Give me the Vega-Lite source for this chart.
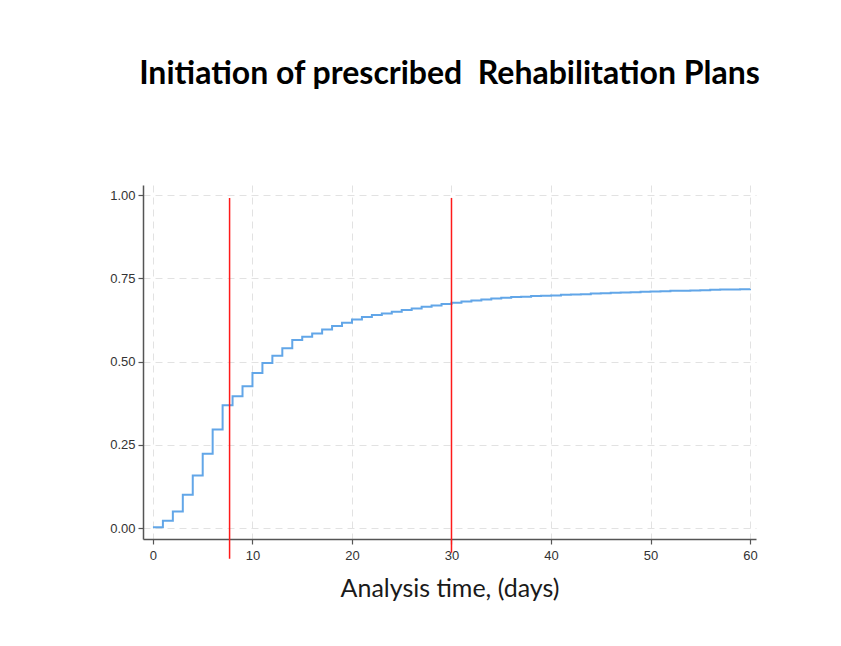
{
  "$schema": "https://vega.github.io/schema/vega-lite/v6.json",
  "autosize": "none",
  "width": 613,
  "height": 354,
  "padding": {"left": 143, "top": 185, "right": 85, "bottom": 107},
  "background": "white",
  "title": {
    "text": "Initiation of prescribed\u00a0 Rehabilitation Plans",
    "font": "Lato",
    "fontSize": 32,
    "fontWeight": "bold",
    "color": "black",
    "anchor": "middle",
    "baseline": "alphabetic",
    "offset": 69
  },
  "config": {
    "view": {"stroke": null},
    "axis": {
      "labelFont": "Liberation Sans",
      "labelFontSize": 13,
      "labelColor": "#333333",
      "domainColor": "#555555",
      "domainWidth": 1.5,
      "tickColor": "#555555",
      "tickWidth": 1.2,
      "tickSize": 5,
      "gridColor": "#e2e2e2",
      "gridDash": [7, 5],
      "gridWidth": 1
    }
  },
  "datasets": {
    "km": [
      {"t": 0, "f": 0.002},
      {"t": 1, "f": 0.022},
      {"t": 2, "f": 0.05},
      {"t": 3, "f": 0.1},
      {"t": 4, "f": 0.158},
      {"t": 5, "f": 0.223},
      {"t": 6, "f": 0.296},
      {"t": 7, "f": 0.369},
      {"t": 8, "f": 0.396},
      {"t": 9, "f": 0.426},
      {"t": 10, "f": 0.466},
      {"t": 11, "f": 0.496},
      {"t": 12, "f": 0.518},
      {"t": 13, "f": 0.54},
      {"t": 14, "f": 0.565},
      {"t": 15, "f": 0.575},
      {"t": 16, "f": 0.585},
      {"t": 17, "f": 0.597},
      {"t": 18, "f": 0.607},
      {"t": 19, "f": 0.617},
      {"t": 20, "f": 0.627},
      {"t": 21, "f": 0.634},
      {"t": 22, "f": 0.64},
      {"t": 23, "f": 0.645},
      {"t": 24, "f": 0.65},
      {"t": 25, "f": 0.655},
      {"t": 26, "f": 0.66},
      {"t": 27, "f": 0.665},
      {"t": 28, "f": 0.669},
      {"t": 29, "f": 0.673},
      {"t": 30, "f": 0.677},
      {"t": 31, "f": 0.681},
      {"t": 32, "f": 0.684},
      {"t": 33, "f": 0.687},
      {"t": 34, "f": 0.69},
      {"t": 35, "f": 0.692},
      {"t": 36, "f": 0.694},
      {"t": 37, "f": 0.695},
      {"t": 38, "f": 0.697},
      {"t": 39, "f": 0.698},
      {"t": 40, "f": 0.699},
      {"t": 41, "f": 0.701},
      {"t": 42, "f": 0.702},
      {"t": 43, "f": 0.703},
      {"t": 44, "f": 0.705},
      {"t": 45, "f": 0.706},
      {"t": 46, "f": 0.707},
      {"t": 47, "f": 0.708},
      {"t": 48, "f": 0.709},
      {"t": 49, "f": 0.71},
      {"t": 50, "f": 0.711},
      {"t": 51, "f": 0.712},
      {"t": 52, "f": 0.713},
      {"t": 53, "f": 0.713},
      {"t": 54, "f": 0.714},
      {"t": 55, "f": 0.715},
      {"t": 56, "f": 0.716},
      {"t": 57, "f": 0.717},
      {"t": 58, "f": 0.717},
      {"t": 59, "f": 0.718},
      {"t": 60, "f": 0.719}
    ],
    "marks": [
      {"t": 7.7, "top": 0.992, "bottom": -0.092},
      {"t": 30, "top": 0.992, "bottom": -0.074}
    ]
  },
  "layer": [
    {
      "data": {"name": "km"},
      "mark": {"type": "line", "interpolate": "step-after", "color": "#62a6e8", "strokeWidth": 2},
      "encoding": {
        "x": {
          "field": "t",
          "type": "quantitative",
          "scale": {"domain": [-1, 60.6], "nice": false, "zero": false},
          "axis": {
            "values": [0, 10, 20, 30, 40, 50, 60],
            "title": "Analysis time, (days)",
            "titleFont": "Lato",
            "titleFontSize": 25,
            "titleFontWeight": "normal",
            "titleColor": "#1a1a1a",
            "titlePadding": 14,
            "labelPadding": 5
          }
        },
        "y": {
          "field": "f",
          "type": "quantitative",
          "scale": {"domain": [-0.033, 1.031], "nice": false, "zero": false},
          "axis": {
            "values": [0, 0.25, 0.5, 0.75, 1],
            "format": ".2f",
            "title": null,
            "labelPadding": 3
          }
        }
      }
    },
    {
      "data": {"name": "marks"},
      "mark": {"type": "rule", "color": "#ff1a1a", "strokeWidth": 1.5, "clip": false},
      "encoding": {
        "x": {"field": "t", "type": "quantitative"},
        "y": {"field": "top", "type": "quantitative"},
        "y2": {"field": "bottom"}
      }
    }
  ]
}
